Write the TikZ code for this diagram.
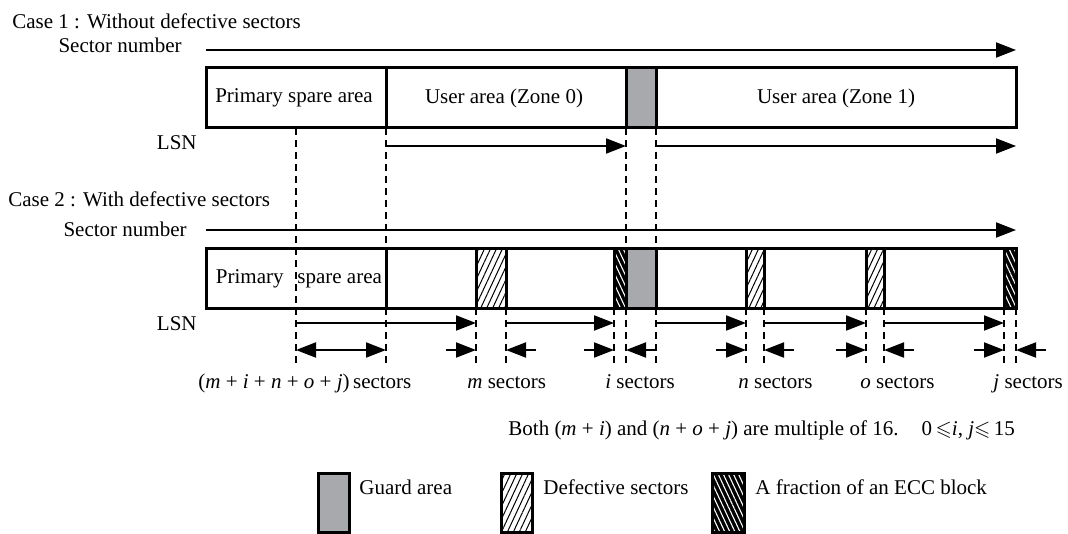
\documentclass[tikz,border=0pt]{standalone}
\usepackage{fontspec}
\setmainfont{Liberation Serif}
\usepackage{amssymb}
\usetikzlibrary{arrows.meta, patterns.meta, calc, positioning}
\definecolor{guardgray}{HTML}{A7A9AC}

\begin{document}
\begin{tikzpicture}[
        x=0.5pt, y=-0.5pt,
        font=\fontsize{10.5}{12.6}\selectfont,
        >={Triangle[length=10pt, width=7.5pt]},
        txt/.style={inner sep=0pt, anchor=base west},
        rtxt/.style={inner sep=0pt, anchor=base east},
        ctxt/.style={inner sep=0pt, anchor=base},
        area/.style={draw, line width=1.5pt},
        guard/.style={area, fill=guardgray},
        defect/.style={area, pattern={Lines[angle=65, distance=2.7pt, line width=0.5pt]}},
        ecc/.style={preaction={fill=black}, preaction={pattern={Lines[angle=-65, distance=2.3pt, line width=0.55pt]}, pattern color=white}, area},
        arrow/.style={->, line width=1pt},
        guide/.style={dash pattern=on 3.5pt off 2.5pt, line width=0.7pt}
    ]
    \useasboundingbox (0,0) rectangle (1068,534);

    % Boundaries of the areas
    \foreach \n/\x in {lft/206, mid/296, ps/386, da/476, db/506, ea/614, ga/626, gb/656, dc/746, dd/764, de/866, df/884, eb/1004, rgt/1016}
        \coordinate (\n) at (\x, 0);
    % Levels
    \foreach \n/\y in {sn1/50, t1/68, b1/128, lsn1/146, sn2/230, t2/248, b2/308, lsn2/323, dim/350, gend/366}
        \coordinate (\n) at (0, \y);

    % Guide lines
    \foreach \n in {mid, ps, ga, gb}
        \draw[guide] (\n |- b1) -- (\n |- gend);
    \foreach \n in {da, db, ea, dc, dd, de, df, eb, rgt}
        \draw[guide] (\n |- b2) -- (\n |- gend);

    % Case 1
    \node[txt] (case1) at (12, 29) {Case 1 : Without defective sectors};
    \node[rtxt] (snum1) at (182, 53) {Sector number};
    \draw[arrow] (lft |- sn1) -- (rgt |- sn1);
    \draw[area] (lft |- t1) rectangle (rgt |- b1);
    \draw[area] (ps |- t1) -- (ps |- b1);
    \draw[guard] (ga |- t1) rectangle (gb |- b1);
    \node[ctxt] (spare1) at (294, 103) {Primary spare area};
    \node[ctxt] (zone0) at (504, 104) {User area (Zone 0)};
    \node[ctxt] (zone1) at (836, 104) {User area (Zone 1)};
    \node[rtxt] (lsn1label) at (197, 150) {LSN};
    \draw[arrow] (ps |- lsn1) -- (ga |- lsn1);
    \draw[arrow] (gb |- lsn1) -- (rgt |- lsn1);

    % Case 2
    \node[txt] (case2) at (8, 206) {Case 2 : With defective sectors};
    \node[rtxt] (snum2) at (187, 236) {Sector number};
    \draw[arrow] (lft |- sn2) -- (rgt |- sn2);
    \draw[area] (lft |- t2) rectangle (rgt |- b2);
    \draw[area] (ps |- t2) -- (ps |- b2);
    \draw[defect] (da |- t2) rectangle (db |- b2);
    \draw[defect] (dc |- t2) rectangle (dd |- b2);
    \draw[defect] (de |- t2) rectangle (df |- b2);
    \draw[ecc] (ea |- t2) rectangle (ga |- b2);
    \draw[ecc] (eb |- t2) rectangle (rgt |- b2);
    \draw[guard] (ga |- t2) rectangle (gb |- b2);
    \node[rtxt] (prim2) at (284, 283) {Primary};
    \node[txt] (spare2) at (297, 283) {spare area};
    \node[rtxt] (lsn2label) at (197, 330) {LSN};
    \foreach \a/\b in {mid/da, db/ea, gb/dc, dd/de, df/eb}
        \draw[arrow] (\a |- lsn2) -- (\b |- lsn2);

    % Sector counts
    \draw[arrow, <->] (mid |- dim) -- (ps |- dim);
    \foreach \a/\b in {da/db, ea/ga, dc/dd, de/df, eb/rgt} {
        \draw[arrow] ($(\a |- dim)+(-30,0)$) -- (\a |- dim);
        \draw[arrow] ($(\b |- dim)+(30,0)$) -- (\b |- dim);
    }
    \node[txt] (cnttotal) at (198, 388) {(\textit{m} + \textit{i} + \textit{n} + \textit{o} + \textit{j})\,sectors};
    \node[txt] (cntm) at (467, 388) {\textit{m} sectors};
    \node[txt] (cnti) at (605, 388) {\textit{i} sectors};
    \node[txt] (cntn) at (738, 388) {\textit{n} sectors};
    \node[txt] (cnto) at (860, 388) {\textit{o} sectors};
    \node[txt] (cntj) at (993, 388) {\textit{j} sectors};
    \node[txt] (note) at (508, 435) {Both (\textit{m} + \textit{i}) and (\textit{n} + \textit{o} + \textit{j}) are multiple of 16.\hspace{1.1em}0\,$\leqslant$\textit{i}, \textit{j}$\leqslant$\,15};

    % Legend
    \draw[guard] (318, 473) rectangle (349, 532);
    \node[txt] (lgguard) at (359, 494) {Guard area};
    \draw[defect] (501, 473) rectangle (532, 532);
    \node[txt] (lgdefect) at (543, 494) {Defective sectors};
    \draw[ecc] (712, 473) rectangle (744, 532);
    \node[txt] (lgecc) at (755, 494) {A fraction of an ECC block};

\end{tikzpicture}
\end{document}
